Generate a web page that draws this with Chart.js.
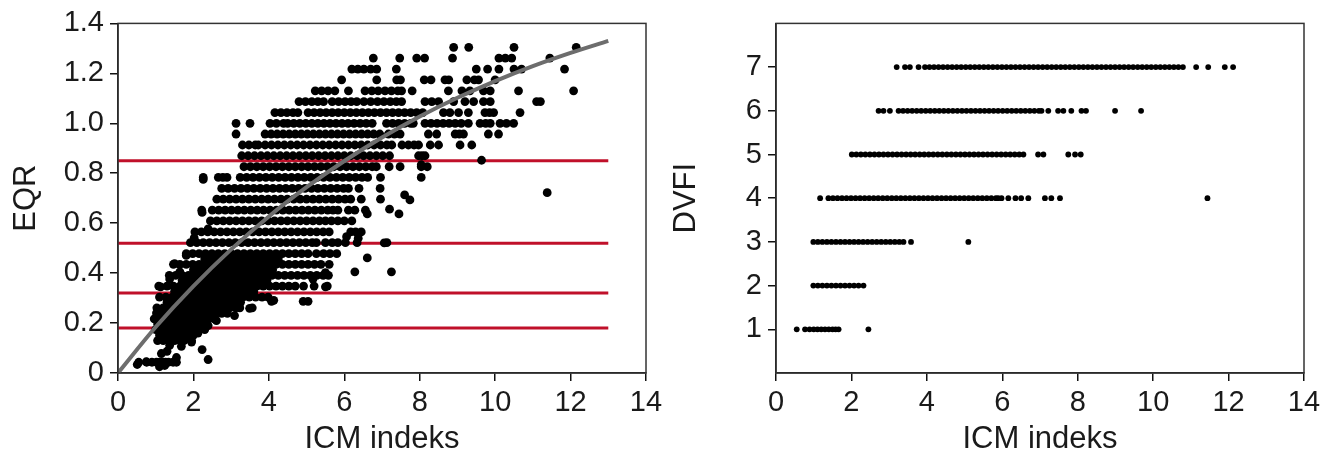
<!DOCTYPE html>
<html>
<head>
<meta charset="utf-8">
<script src="https://cdn.jsdelivr.net/npm/chart.js@4.4.0/dist/chart.umd.min.js"></script>
<style>
  body { margin: 0; background: #fff; }
  .wrap { position: absolute; top: 0; height: 468px; }
  #left { left: 0; width: 672px; }
  #right { left: 660px; width: 684px; }
</style>
</head>
<body>
<div class="wrap" id="left"><canvas id="eqrChart" width="672" height="468"></canvas></div>
<div class="wrap" id="right"><canvas id="dvfiChart" width="684" height="468"></canvas></div>
<script>
// Left panel: EQR against ICM index

const eqrLevels = [
    0.043, 0.087, 0.130, 0.174, 0.217, 0.261, 0.304, 0.348, 0.391, 0.435,
    0.478, 0.522, 0.565, 0.609, 0.652, 0.696, 0.739, 0.783, 0.826, 0.870,
    0.913, 0.957, 1.000, 1.043, 1.087, 1.130, 1.174, 1.217, 1.261, 1.304,
    0.152, 0.196, 0.239, 0.283, 0.326, 0.370, 0.413, 0.457
];

const icmAtLevel = [
    [0.55, 0.76, 0.9, 1.02, 1.1, 1.18, 1.26, 1.34, 1.46, 1.55],
    [1.3],
    [1.05, 1.2, 1.35, 1.5, 1.65, 1.75, 1.95],
    [1.0, 1.15, 1.3, 1.45, 1.6, 1.75, 1.9, 2.05, 2.15, 2.3],
    [0.96, 1.12, 1.28, 1.44, 1.6, 1.76, 1.92, 2.08, 2.24, 2.4, 2.55],
    [1.03, 1.2, 1.36, 1.52, 1.68, 1.84, 2.0, 2.16, 2.32, 2.48, 2.64, 2.8, 2.96, 3.12, 3.23, 3.56],
    [1.1, 1.27, 1.44, 1.61, 1.78, 1.95, 2.12, 2.29, 2.46, 2.63, 2.8, 2.97, 3.14, 3.31, 3.48, 3.65, 3.82, 3.98],
    [1.08, 1.3, 1.47, 1.64, 1.81, 1.98, 2.15, 2.32, 2.49, 2.66, 2.83, 3.0, 3.17, 3.34, 3.51, 3.68, 3.85, 4.02, 4.19, 4.36, 4.53, 4.7, 4.92, 5.2, 5.55],
    [1.36, 1.53, 1.7, 1.87, 2.04, 2.21, 2.38, 2.55, 2.72, 2.89, 3.06, 3.23, 3.4, 3.57, 3.74, 3.91, 4.08, 4.25, 4.42, 4.59, 4.76, 4.93, 5.1, 5.27, 5.44, 5.58],
    [1.47, 1.64, 1.81, 1.98, 2.15, 2.32, 2.49, 2.66, 2.83, 3.0, 3.17, 3.34, 3.51, 3.68, 3.85, 4.02, 4.19, 4.36, 4.53, 4.7, 4.87, 5.04, 5.21, 5.38, 5.6],
    [1.81, 1.98, 2.15, 2.32, 2.49, 2.66, 2.83, 3.0, 3.17, 3.34, 3.51, 3.68, 3.85, 4.02, 4.19, 4.36, 4.53, 4.7, 4.87, 5.04, 5.26, 5.45, 5.62, 5.8],
    [1.92, 2.09, 2.26, 2.43, 2.6, 2.77, 2.94, 3.11, 3.28, 3.45, 3.62, 3.79, 3.96, 4.13, 4.3, 4.47, 4.64, 4.81, 4.98, 5.15, 5.26, 5.5, 5.68, 5.83, 6.03, 6.34, 7.13],
    [2.04, 2.21, 2.38, 2.55, 2.72, 2.89, 3.06, 3.23, 3.4, 3.57, 3.74, 3.91, 4.08, 4.25, 4.42, 4.59, 4.76, 4.93, 5.1, 5.27, 5.44, 5.6, 6.17, 6.3, 6.45],
    [2.45, 2.62, 2.79, 2.96, 3.13, 3.3, 3.47, 3.64, 3.81, 3.98, 4.15, 4.32, 4.49, 4.66, 4.83, 5.0, 5.17, 5.34, 5.5, 5.66, 5.83, 6.0, 6.2],
    [2.22, 2.5, 2.67, 2.84, 3.01, 3.18, 3.35, 3.52, 3.69, 3.86, 4.03, 4.2, 4.37, 4.54, 4.71, 4.88, 5.05, 5.22, 5.39, 5.56, 5.7, 5.83, 6.11, 6.28, 6.56],
    [2.62, 2.79, 2.96, 3.13, 3.3, 3.47, 3.64, 3.81, 3.98, 4.15, 4.32, 4.49, 4.66, 4.83, 5.0, 5.17, 5.34, 5.51, 5.68, 5.85, 6.02, 6.17, 6.45, 6.96],
    [2.75, 2.92, 3.09, 3.26, 3.43, 3.6, 3.77, 3.94, 4.11, 4.28, 4.45, 4.62, 4.79, 4.96, 5.13, 5.3, 5.47, 5.64, 5.81, 5.98, 6.11, 6.39, 6.95],
    [2.26, 2.66, 2.78, 2.89, 3.24, 3.41, 3.58, 3.75, 3.92, 4.09, 4.26, 4.43, 4.6, 4.77, 4.94, 5.11, 5.28, 5.45, 5.62, 5.79, 5.96, 6.13, 6.3, 6.47, 6.62, 6.96, 8.04],
    [3.34, 3.51, 3.68, 3.85, 4.02, 4.19, 4.36, 4.53, 4.7, 4.87, 5.04, 5.21, 5.38, 5.55, 5.72, 5.89, 6.06, 6.23, 6.4, 6.57, 6.74, 6.85, 7.19, 7.48, 8.04, 8.2],
    [3.28, 3.45, 3.62, 3.79, 3.96, 4.13, 4.3, 4.47, 4.64, 4.81, 4.98, 5.15, 5.32, 5.49, 5.66, 5.83, 6.0, 6.17, 6.34, 6.51, 6.68, 6.85, 7.02, 7.2, 7.97, 8.06, 8.14],
    [3.3, 3.47, 3.64, 3.72, 3.9, 4.07, 4.24, 4.41, 4.58, 4.75, 4.92, 5.09, 5.26, 5.43, 5.6, 5.77, 5.94, 6.11, 6.28, 6.45, 6.62, 6.79, 6.96, 7.13, 7.26, 7.53, 7.7, 7.85, 7.97, 8.28, 8.5, 9.07, 9.38],
    [3.13, 3.9, 4.06, 4.22, 4.38, 4.54, 4.7, 4.86, 5.02, 5.18, 5.34, 5.5, 5.66, 5.82, 5.98, 6.14, 6.3, 6.46, 6.62, 6.78, 6.94, 7.17, 7.33, 7.48, 8.23, 8.45, 8.94, 9.05, 9.16, 9.82, 10.09],
    [3.13, 3.5, 4.03, 4.2, 4.39, 4.5, 4.66, 4.82, 4.98, 5.14, 5.3, 5.46, 5.62, 5.78, 5.94, 6.1, 6.26, 6.42, 6.58, 6.74, 7.12, 7.28, 7.44, 7.6, 7.76, 7.83, 8.14, 8.3, 8.46, 8.62, 8.78, 8.94, 9.1, 9.29, 9.6, 9.75, 9.87, 10.13, 10.3, 10.49],
    [4.16, 4.32, 4.48, 4.64, 4.77, 5.04, 5.2, 5.36, 5.52, 5.68, 5.84, 6.0, 6.16, 6.32, 6.48, 6.64, 6.8, 6.96, 7.12, 7.28, 7.44, 7.6, 7.76, 7.92, 8.08, 8.63, 8.8, 9.03, 9.29, 9.73, 9.85, 9.96, 10.66],
    [4.8, 4.97, 5.14, 5.3, 5.45, 5.68, 5.85, 6.02, 6.18, 6.33, 6.52, 6.7, 6.88, 7.05, 7.22, 7.38, 7.52, 8.14, 8.32, 8.5, 8.9, 9.2, 9.43, 9.69, 9.87, 11.1, 11.2],
    [5.23, 5.4, 5.57, 5.75, 6.11, 6.55, 6.73, 6.9, 7.08, 7.25, 7.42, 7.52, 7.8, 8.76, 9.12, 9.33, 9.69, 9.87, 10.62, 12.08],
    [5.93, 6.86, 7.39, 7.49, 8.12, 8.3, 8.67, 8.77, 9.25, 9.45, 9.56, 10.0],
    [6.2, 6.36, 6.52, 6.7, 6.86, 7.38, 9.5, 9.8, 10.1, 10.5, 10.7, 11.84],
    [6.77, 7.47, 7.92, 8.13, 8.87, 10.1, 10.27, 10.44, 11.45],
    [8.9, 9.3, 10.5, 12.15],
    [1.1, 1.25, 1.4, 1.55, 1.7, 1.85, 2.0],
    [1.05, 1.2, 1.35, 1.5, 1.65, 1.8, 1.95, 2.1, 2.25, 2.35],
    [1.1, 1.25, 1.4, 1.55, 1.7, 1.85, 2.0, 2.15, 2.3, 2.45, 2.6, 2.75, 2.9],
    [1.3, 1.45, 1.6, 1.75, 1.9, 2.05, 2.2, 2.35, 2.5, 2.65, 2.8, 2.95, 3.1, 3.25],
    [1.5, 1.65, 1.8, 1.95, 2.1, 2.25, 2.4, 2.55, 2.7, 2.85, 3.0, 3.15, 3.3, 3.45, 3.6],
    [1.7, 1.85, 2.0, 2.15, 2.3, 2.45, 2.6, 2.75, 2.9, 3.05, 3.2, 3.35, 3.5, 3.65, 3.8, 3.95],
    [2.0, 2.15, 2.3, 2.45, 2.6, 2.75, 2.9, 3.05, 3.2, 3.35, 3.5, 3.65, 3.8, 3.95, 4.1],
    [2.3, 2.45, 2.6, 2.75, 2.9, 3.05, 3.2, 3.35, 3.5, 3.65, 3.8, 3.95, 4.1, 4.25]
];

// stray points that are off the regular EQR steps
const extraIcm = [0.51, 0.75, 1.1, 1.24, 1.15, 1.55, 1.37, 1.68, 1.95, 2.23, 2.39, 2.12, 2.39, 2.61, 3.09, 3.49,
    1.02, 1.13, 1.37, 1.64, 1.5, 1.81, 2.02, 2.39, 2.23, 2.26, 4.07, 4.13, 4.91, 5.04, 5.17, 5.5, 5.5,
    6.28, 7.25, 6.61, 7.06, 6.37, 6.06, 6.61, 7.2, 7.45, 7.6, 7.74, 8.04, 9.64, 11.38];
const extraEqr = [0.034, 0.045, 0.025, 0.03, 0.078, 0.062, 0.111, 0.107, 0.124, 0.094, 0.054, 0.16, 0.19, 0.21, 0.23, 0.259,
    0.24, 0.345, 0.376, 0.405, 0.438, 0.471, 0.541, 0.577, 0.643, 0.775, 0.287, 0.291, 0.287, 0.287, 0.376, 0.345, 0.402,
    0.405, 0.405, 0.461, 0.521, 0.54, 0.546, 0.637, 0.656, 0.637, 0.713, 0.693, 0.834, 0.852, 0.722];

// fitted curve
const curveIcm = [0, 1, 2, 3, 4, 5, 6, 7, 8, 9, 10, 11, 12, 13];
const curveEqr = [0, 0.184, 0.348, 0.495, 0.627, 0.744, 0.849, 0.943, 1.027, 1.102, 1.169, 1.229, 1.282, 1.33];

// class boundaries (red lines)
const eqrBounds = [0.85, 0.52, 0.32, 0.18];
const boundRange = [0, 13];

const xTicks = [0, 2, 4, 6, 8, 10, 12, 14];
const eqrTicks = [0, 0.2, 0.4, 0.6, 0.8, 1.0, 1.2, 1.4];

// Right panel: DVFI against ICM index

const dvfiTicks = [1, 2, 3, 4, 5, 6, 7];

const dvfi1 = [0.55, 0.77, 0.89, 1.0, 1.1, 1.2, 1.3, 1.4, 1.5, 1.58, 1.66, 2.45];
const dvfi2 = [0.99, 1.11, 1.23, 1.35, 1.47, 1.59, 1.71, 1.83, 1.95, 2.07, 2.19, 2.32];
const dvfi3 = [0.99, 1.11, 1.23, 1.35, 1.47, 1.59, 1.71, 1.83, 1.95, 2.07, 2.19, 2.31, 2.43, 2.55, 2.67, 2.79,
    2.91, 3.03, 3.15, 3.27, 3.38, 3.58, 5.1];
const dvfi4 = [1.17, 1.39, 1.51, 1.63, 1.75, 1.87, 1.99, 2.11, 2.23, 2.35, 2.47, 2.59, 2.71, 2.83, 2.95, 3.07,
    3.19, 3.31, 3.43, 3.55, 3.67, 3.79, 3.91, 4.03, 4.15, 4.27, 4.39, 4.51, 4.63, 4.75, 4.87, 4.99, 5.11,
    5.23, 5.35, 5.47, 5.59, 5.71, 5.83, 5.89, 5.98, 6.16, 6.35, 6.5, 6.69, 7.13, 7.3, 7.53, 11.44];
const dvfi5 = [2.01, 2.13, 2.25, 2.37, 2.49, 2.61, 2.73, 2.85, 2.97, 3.09, 3.21, 3.33, 3.45, 3.57, 3.69, 3.81,
    3.93, 4.05, 4.17, 4.29, 4.41, 4.53, 4.65, 4.77, 4.89, 5.01, 5.13, 5.25, 5.37, 5.49, 5.61, 5.73, 5.85,
    5.97, 6.09, 6.21, 6.33, 6.45, 6.56, 6.95, 7.09, 7.75, 7.93, 8.08];
const dvfi6 = [2.72, 2.85, 3.02, 3.25, 3.37, 3.49, 3.61, 3.73, 3.85, 3.97, 4.09, 4.21, 4.33, 4.45, 4.57, 4.69,
    4.81, 4.93, 5.05, 5.17, 5.29, 5.41, 5.53, 5.65, 5.77, 5.89, 6.01, 6.13, 6.25, 6.37, 6.49, 6.61, 6.73,
    6.85, 6.97, 7.04, 7.22, 7.48, 7.62, 7.83, 8.1, 8.22, 8.99, 9.68];
const dvfi7 = [3.2, 3.42, 3.55, 3.78, 3.95, 4.07, 4.19, 4.31, 4.43, 4.55, 4.67, 4.79, 4.91, 5.03, 5.15, 5.27,
    5.39, 5.51, 5.63, 5.75, 5.87, 5.99, 6.11, 6.23, 6.35, 6.47, 6.59, 6.71, 6.83, 6.95, 7.07, 7.19, 7.31,
    7.43, 7.55, 7.67, 7.79, 7.91, 8.03, 8.15, 8.27, 8.39, 8.51, 8.63, 8.75, 8.87, 8.99, 9.11, 9.23, 9.35,
    9.47, 9.59, 9.71, 9.83, 9.95, 10.07, 10.19, 10.31, 10.43, 10.55, 10.67, 10.79, 11.14, 11.46, 11.9, 12.12];

const dvfiRows = [dvfi1, dvfi2, dvfi3, dvfi4, dvfi5, dvfi6, dvfi7];

// Shared styling

const FONT = '"Liberation Sans", Arial, Helvetica, sans-serif';
const TEXT = '#1a1a1a';

Chart.defaults.font.family = FONT;
Chart.defaults.color = TEXT;
Chart.defaults.animation = false;
Chart.defaults.plugins.legend.display = false;
Chart.defaults.plugins.tooltip.enabled = false;

const frame = {
    id: 'frame',
    afterDraw(chart) {
        const { ctx, chartArea: a } = chart;
        ctx.save();
        ctx.strokeStyle = '#333';
        ctx.lineWidth = 1.5;
        ctx.strokeRect(a.left, a.top, a.right - a.left, a.bottom - a.top);
        ctx.restore();
    }
};

function fixedTicks(values) {
    return scale => { scale.ticks = values.map(v => ({ value: v })); };
}

function xScale(height) {
    return {
        type: 'linear',
        min: 0,
        max: 14,
        afterBuildTicks: fixedTicks(xTicks),
        afterFit: s => { s.height = height; },
        border: { color: '#111', width: 1.5 },
        grid: { drawOnChartArea: false, color: '#111', lineWidth: 1.5, tickLength: 8 },
        ticks: { font: { size: 29 }, color: TEXT, padding: 5, maxRotation: 0 },
        title: { display: true, text: 'ICM indeks', font: { size: 31 }, color: TEXT, padding: { top: 0, bottom: 10 } }
    };
}

function yScale(width, min, max, ticks, title, fmt) {
    return {
        type: 'linear',
        min: min,
        max: max,
        afterBuildTicks: fixedTicks(ticks),
        afterFit: s => { s.width = width; },
        border: { color: '#111', width: 1.5 },
        grid: { drawOnChartArea: false, color: '#111', lineWidth: 1.5, tickLength: 8 },
        ticks: { font: { size: 29 }, color: TEXT, padding: 6, callback: fmt },
        title: { display: true, text: title, font: { size: 31 }, color: TEXT, padding: { top: 8, bottom: 4 } }
    };
}

// Build point lists

const eqrPoints = [];
eqrLevels.forEach((lvl, i) => {
    icmAtLevel[i].forEach(x => eqrPoints.push({ x: x, y: lvl }));
});
extraIcm.forEach((x, i) => eqrPoints.push({ x: x, y: extraEqr[i] }));

const curvePoints = curveIcm.map((x, i) => ({ x: x, y: curveEqr[i] }));

const boundSets = eqrBounds.map(b => ({
    data: boundRange.map(x => ({ x: x, y: b })),
    showLine: true,
    borderColor: '#c0102a',
    borderWidth: 3,
    pointRadius: 0
}));

const dvfiPoints = [];
dvfiRows.forEach((row, i) => {
    row.forEach(x => dvfiPoints.push({ x: x, y: dvfiTicks[i] }));
});

// Charts

let eqrChart = new Chart(document.getElementById('eqrChart'), {
    type: 'scatter',
    data: {
        datasets: [
            {
                data: curvePoints,
                showLine: true,
                borderColor: '#6d6d6d',
                borderWidth: 4,
                pointRadius: 0,
                tension: 0.4,
                cubicInterpolationMode: 'monotone'
            },
            {
                data: eqrPoints,
                backgroundColor: '#000',
                borderWidth: 0,
                pointRadius: 4.4
            },
            ...boundSets
        ]
    },
    options: {
        responsive: false,
        layout: { padding: { top: 20, right: 26, left: 0, bottom: 0 } },
        scales: {
            x: xScale(95),
            y: yScale(118, 0, 1.4, eqrTicks, 'EQR', v => v === 0 ? '0' : v.toFixed(1))
        }
    },
    plugins: [frame]
});

let dvfiChart = new Chart(document.getElementById('dvfiChart'), {
    type: 'scatter',
    data: {
        datasets: [{
            data: dvfiPoints,
            backgroundColor: '#000',
            borderWidth: 0,
            pointRadius: 2.9
        }]
    },
    options: {
        responsive: false,
        layout: { padding: { top: 20, right: 40, left: 0, bottom: 0 } },
        scales: {
            x: xScale(95),
            y: yScale(116, 0, 8, dvfiTicks, 'DVFI', v => String(v))
        }
    },
    plugins: [frame]
});
</script>
</body>
</html>
